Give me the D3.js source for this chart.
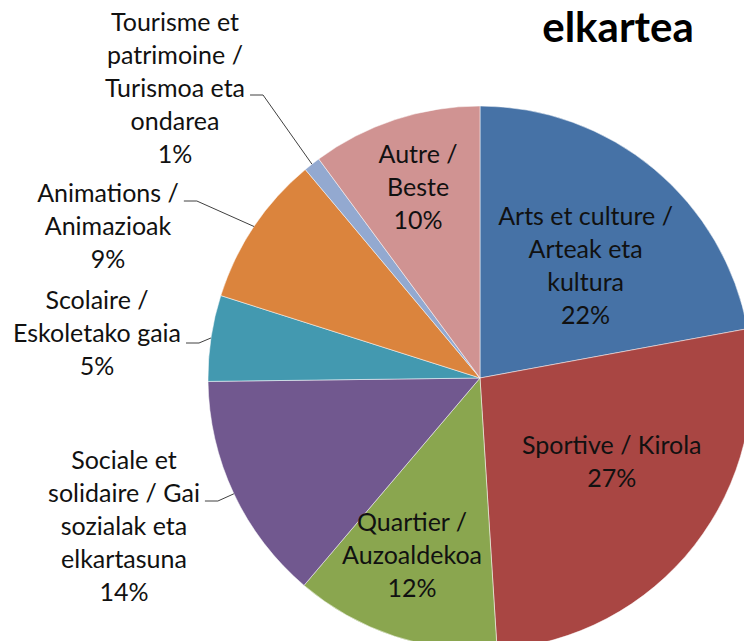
<!DOCTYPE html>
<html lang="en">
<head>
    <meta charset="UTF-8">
    <title>elkartea</title>
    <style>
        body { margin: 0; background: #fff; }
        .label { font-family: Lato, "Open Sans", sans-serif; font-size: 25px; fill: #111; }
        .title { font-family: Lato, "Open Sans", sans-serif; font-size: 42px; font-weight: bold; fill: #000; }
        .leader { fill: none; stroke: #404040; stroke-width: 1; }
    </style>
</head>
<body>
    <div id="chart"></div>

    <script src="https://d3js.org/d3.v7.min.js"></script>
    <script>
        const width = 744;
        const height = 641;

        // data, in drawing order (clockwise from 12 o'clock)
        const categories = ["Arts et culture", "Sportive", "Quartier", "Sociale et solidaire",
            "Scolaire", "Animations", "Tourisme et patrimoine", "Autre"];
        const values = [22.1, 26.9, 12.2, 13.6, 5.1, 9.0, 1.0, 10.1];
        const labelLines = [
            ["Arts et culture /", "Arteak eta", "kultura"],
            ["Sportive / Kirola"],
            ["Quartier /", "Auzoaldekoa"],
            ["Sociale et", "solidaire / Gai", "sozialak eta", "elkartasuna"],
            ["Scolaire /", "Eskoletako gaia"],
            ["Animations /", "Animazioak"],
            ["Tourisme et", "patrimoine /", "Turismoa eta", "ondarea"],
            ["Autre /", "Beste"]
        ];
        const colors = ["#4672A6", "#A94643", "#8AA64F", "#71588F", "#4399B0", "#DB843D", "#93A9D0", "#D09392"];

        // layout
        const cx = 480, cy = 378, radius = 272;
        const lineH = 33;
        // inside labels: fraction of the radius along the slice middle, plus a nudge
        const inside = {
            0: {f: 0.555, dx: 9, dy: 4},
            1: {f: 0.54, dx: 16, dy: -7},
            2: {f: 0.70, dx: -8, dy: -3},
            7: {f: 0.73, dx: 0, dy: -2}
        };
        // outside labels: block centre x, first line y, leader line y
        const outside = {
            3: {x: 124, y: 460, ly: 501},
            4: {x: 97, y: 300, ly: 343},
            5: {x: 108, y: 193, ly: 201},
            6: {x: 175, y: 22, ly: 95}
        };

        const svg = d3.select("#chart")
            .append("svg")
            .attr("width", width)
            .attr("height", height);

        const data = categories.map((c, i) => ({name: c, value: values[i], i: i}));
        const total = d3.sum(values);
        const pct = d => Math.round(d.value / total * 100) + "%";

        const pie = d3.pie().sort(null).value(d => d.value);
        const arcs = pie(data);

        const arc = d3.arc().innerRadius(0).outerRadius(radius);
        const edgeArc = d3.arc().innerRadius(radius).outerRadius(radius);

        const g = svg.append("g").attr("transform", `translate(${cx},${cy})`);

        g.selectAll("path.slice")
            .data(arcs)
            .enter()
            .append("path")
            .attr("class", "slice")
            .attr("d", arc)
            .attr("fill", d => colors[d.data.i])
            .attr("stroke", "#fff")
            .attr("stroke-width", 0.5);

        // inside labels
        arcs.filter(d => inside[d.data.i] !== undefined).forEach(d => {
            const o = inside[d.data.i];
            const c = d3.arc().innerRadius(radius * o.f).outerRadius(radius * o.f).centroid(d);
            const x = c[0] + o.dx, y = c[1] + o.dy;
            const lines = labelLines[d.data.i].concat([pct(d.data)]);
            const top = y - (lines.length - 1) * lineH / 2;
            const t = g.append("text")
                .attr("class", "label")
                .attr("text-anchor", "middle");
            lines.forEach((l, k) => {
                t.append("tspan")
                    .attr("x", x)
                    .attr("y", top + k * lineH)
                    .attr("dy", "0.35em")
                    .text(l);
            });
        });

        // outside labels with leader lines
        arcs.filter(d => outside[d.data.i] !== undefined).forEach(d => {
            const o = outside[d.data.i];
            const lines = labelLines[d.data.i].concat([pct(d.data)]);
            const t = svg.append("text")
                .attr("class", "label")
                .attr("text-anchor", "middle");
            lines.forEach((l, k) => {
                t.append("tspan")
                    .attr("x", o.x)
                    .attr("y", o.y + k * lineH)
                    .attr("dy", "0.35em")
                    .text(l);
            });
            const box = t.node().getBBox();
            const [ex, ey] = edgeArc.centroid(d);
            const x0 = box.x + box.width + 5;
            const x1 = Math.min(x0 + 13, cx + ex);
            svg.append("path")
                .attr("class", "leader")
                .attr("d", d3.line()([[x0, o.ly], [x1, o.ly], [cx + ex, cy + ey]]));
        });

        svg.append("text")
            .attr("class", "title")
            .attr("x", 618)
            .attr("y", 42)
            .attr("text-anchor", "middle")
            .text("elkartea");
    </script>
</body>
</html>
